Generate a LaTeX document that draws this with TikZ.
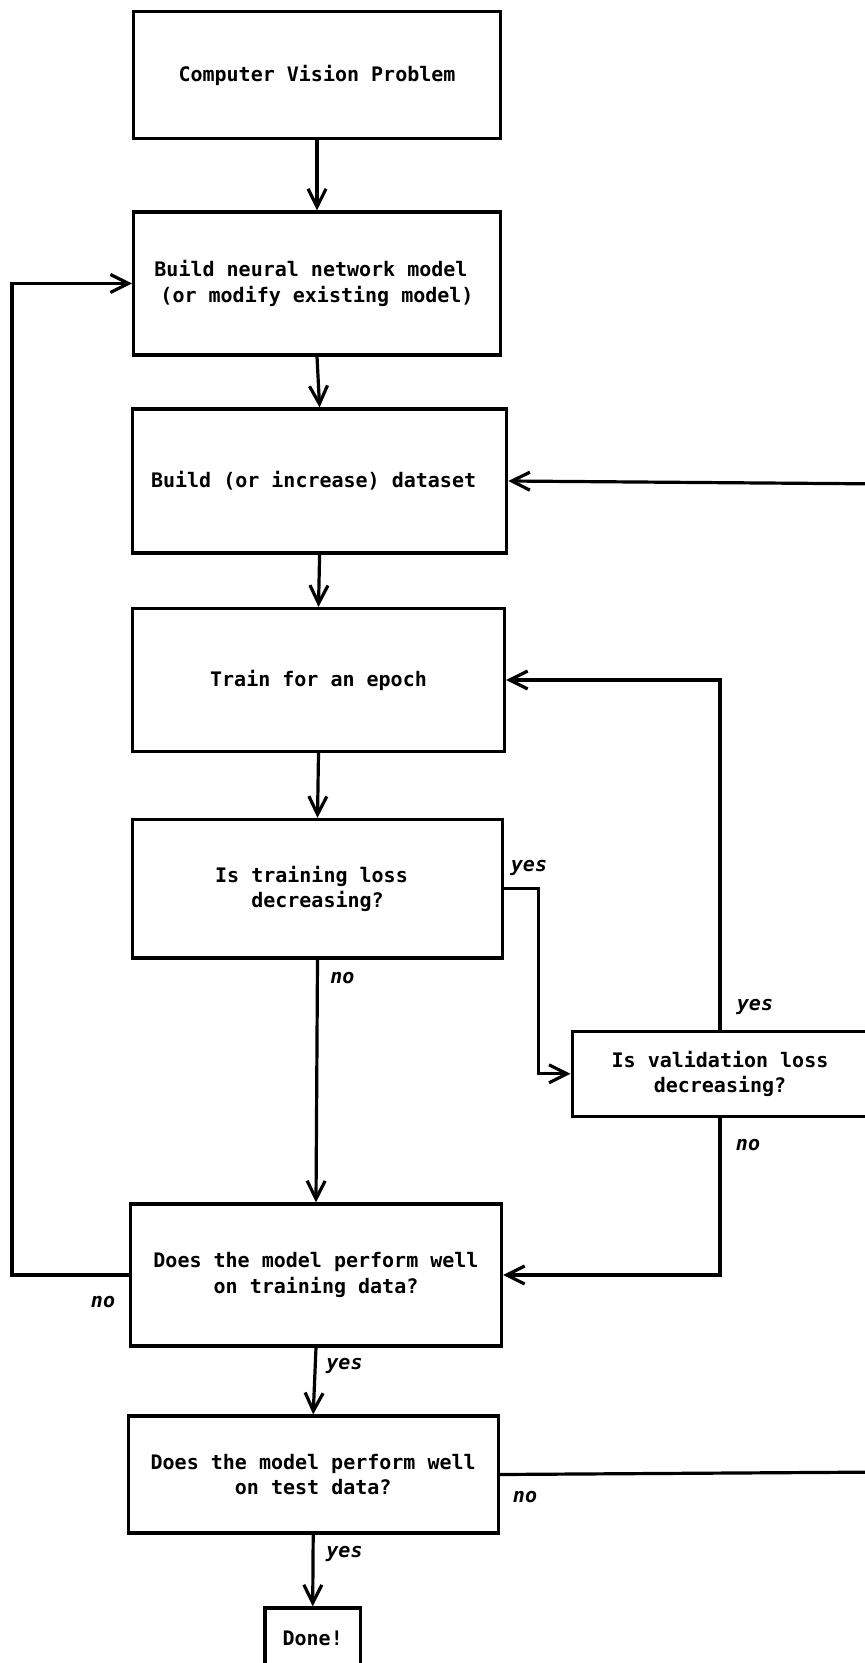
\documentclass[tikz,border=0pt]{standalone}
\usepackage{fontspec}
\setmonofont{DejaVu Sans Mono}
\usetikzlibrary{arrows.meta}

\tikzset{
  box/.style={draw, line width=1.6pt, align=center, inner sep=0pt,
    font=\ttfamily\bfseries\fontsize{10}{12.7}\selectfont},
  arr/.style={line width=1.6pt, -{Straight Barb[length=9pt,width=9pt]}},
  answer/.style={inner sep=0pt, font=\ttfamily\bfseries\itshape\fontsize{10}{12}\selectfont},
}

\begin{document}
\begin{tikzpicture}[x=0.5pt,y=-0.5pt]
        \clip (0,0) rectangle (865,1663);
        %% Main column
        \node[box, minimum width=183.4pt, minimum height=63.5pt] (problem) at (317,75.3) {Computer Vision Problem};
        \node[box, minimum width=183.4pt, minimum height=71.5pt] (model) at (317,283.5) {Build neural network model\hphantom{x}\\(or modify existing model)};
        \node[box, minimum width=187.1pt, minimum height=72pt] (dataset) at (319.6,481) {Build (or increase) dataset\hphantom{x}};
        \node[box, minimum width=186pt, minimum height=71.5pt] (epoch) at (318.5,680) {Train for an epoch};
        \node[box, minimum width=185pt, minimum height=69.25pt] (trainloss) at (317.5,888.7) {Is training loss\hphantom{x}\\decreasing?};
        \node[box, minimum width=147.8pt, minimum height=42.4pt] (valloss) at (720,1073.8) {Is validation loss\\decreasing?};
        \node[box, minimum width=185.5pt, minimum height=71pt] (trainwell) at (316,1275) {Does the model perform well\\on training data?};
        \node[box, minimum width=185pt, minimum height=58.5pt] (testwell) at (313.2,1474.5) {Does the model perform well\\on test data?};
        \node[box, minimum width=47.7pt, minimum height=30pt] (done) at (312.7,1638) {Done!};
        %% Rails
        \coordinate (leftrail) at (12,0);
        \coordinate (rightlow) at (890,1472);
        \coordinate (righthigh) at (890,484);
        %% Straight arrows
        \draw[arr] (problem) -- (model);
        \draw[arr] (model.south) -- (dataset.north);
        \draw[arr] (dataset.south) -- (epoch.north);
        \draw[arr] (epoch.south) -- (trainloss.north);
        \draw[arr] (trainloss.south) -- (trainwell.north);
        \draw[arr] (trainwell.south) -- (testwell.north);
        \draw[arr] (testwell.south) -- (done.north);
        %% Loops
        \draw[arr] (trainloss.east) -- ([xshift=17pt]trainloss.east) |- (valloss.west);
        \draw[arr] (valloss.north) |- (epoch.east);
        \draw[arr] (valloss.south) |- (trainwell.east);
        \draw[arr] (trainwell.west) -- (trainwell.west -| leftrail) |- (model.west);
        \draw[arr] (testwell.east) -- (rightlow) -- (righthigh) -- (dataset.east);
        %% Answers
        \node[answer] (yes1) at (529,868) {yes};
        \node[answer] (no1) at (342.4,978.4) {no};
        \node[answer] (yes2) at (755,1007) {yes};
        \node[answer] (no2) at (748,1145) {no};
        \node[answer] (no3) at (103,1302) {no};
        \node[answer] (yes3) at (344.5,1366) {yes};
        \node[answer] (no4) at (525,1497) {no};
        \node[answer] (yes4) at (344.5,1554) {yes};
\end{tikzpicture}
\end{document}
